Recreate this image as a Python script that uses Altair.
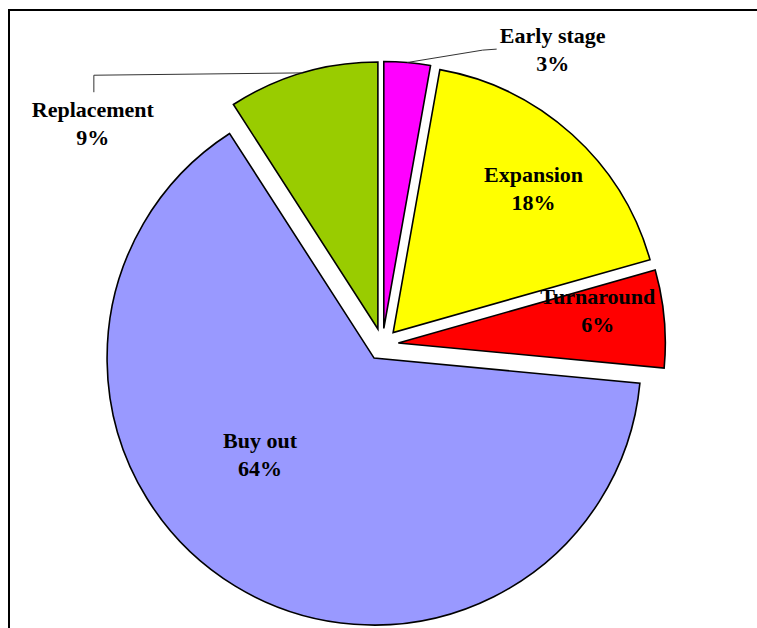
import altair as alt
import pandas as pd

# ---- data ----
CATEGORIES = ["Early stage", "Expansion", "Turnaround", "Buy out", "Replacement"]
VALUES = [2.8, 17.8, 5.9, 64.4, 9.1]
COLORS = ["#FF00FF", "#FFFF00", "#FF0000", "#9999FF", "#99CC00"]

# ---- layout ----
W, H = 757, 628
CX, CY = 382.4, 344.4      # common pie centre
R = 267                    # pie radius
EXPLODE = 16               # explosion distance of each slice
# label anchors, polar relative to each slice's exploded apex (px, degrees clockwise from 12 o'clock)
LABEL_RADIUS = [326, 201, 202, 150, 351]
LABEL_ANGLE = [31.2, 44.3, 81.0, 229.5, 305.7]
# leader lines: elbow dx, dy, end dx, dy relative to the label anchor
LEADER = {"Early stage": (-70, 0.5, -56, -0.5), "Replacement": (1, -49, 1, -32)}

nan = float("nan")
df = pd.DataFrame({
    "category": CATEGORIES,
    "value": VALUES,
    "idx": list(range(len(CATEGORIES))),
    "lr": LABEL_RADIUS,
    "la": LABEL_ANGLE,
    "ebx": [LEADER.get(c, (nan,) * 4)[0] for c in CATEGORIES],
    "eby": [LEADER.get(c, (nan,) * 4)[1] for c in CATEGORIES],
    "enx": [LEADER.get(c, (nan,) * 4)[2] for c in CATEGORIES],
    "eny": [LEADER.get(c, (nan,) * 4)[3] for c in CATEGORIES],
})

base = (
    alt.Chart(df)
    .transform_window(cum="sum(value)", sort=[alt.SortField("idx")], frame=[None, 0])
    .transform_joinaggregate(total="sum(value)")
    .transform_calculate(
        a0="2*PI*(datum.cum - datum.value)/datum.total",
        a1="2*PI*datum.cum/datum.total",
    )
    .transform_calculate(am="(datum.a0 + datum.a1)/2")
    .transform_calculate(
        cx=f"{CX} + {EXPLODE}*sin(datum.am)",
        cy=f"{CY} - {EXPLODE}*cos(datum.am)",
    )
    .transform_calculate(
        lx="datum.cx + datum.lr*sin(datum.la*PI/180)",
        ly="datum.cy - datum.lr*cos(datum.la*PI/180)",
        ex=f"datum.cx + {R}*sin(datum.am)",
        ey=f"datum.cy - {R}*cos(datum.am)",
        label="datum.category + '\\n' + round(datum.value/datum.total*100) + '%'",
    )
)

frame = alt.Chart(pd.DataFrame({"a": [0]})).mark_rect(
    filled=False, stroke="black", strokeWidth=2
).encode(
    x=alt.value(9), y=alt.value(10), x2=alt.value(W + 20), y2=alt.value(H + 20)
)

arcs = base.mark_arc(radius=R, stroke="black", strokeWidth=1.6).encode(
    x=alt.X("cx:Q", scale=None, axis=None),
    y=alt.Y("cy:Q", scale=None, axis=None),
    theta=alt.Theta("a0:Q", scale=None),
    theta2=alt.Theta2("a1:Q"),
    color=alt.Color("category:N", scale=alt.Scale(domain=CATEGORIES, range=COLORS), legend=None),
)

leaders = base.transform_filter("isValid(datum.ebx)")

leader1 = leaders.transform_calculate(
    bx="datum.lx + datum.ebx", by="datum.ly + datum.eby"
).mark_rule(color="#333333", strokeWidth=1).encode(
    x=alt.X("ex:Q", scale=None, axis=None),
    y=alt.Y("ey:Q", scale=None, axis=None),
    x2="bx:Q",
    y2="by:Q",
)

leader2 = leaders.transform_calculate(
    bx="datum.lx + datum.ebx", by="datum.ly + datum.eby",
    nx="datum.lx + datum.enx", ny="datum.ly + datum.eny",
).mark_rule(color="#333333", strokeWidth=1).encode(
    x=alt.X("bx:Q", scale=None, axis=None),
    y=alt.Y("by:Q", scale=None, axis=None),
    x2="nx:Q",
    y2="ny:Q",
)

labels = base.mark_text(
    font="Liberation Serif", fontSize=22, fontWeight="bold", color="black",
    lineBreak="\n", lineHeight=28, align="center", baseline="middle", dy=-14,
).encode(
    x=alt.X("lx:Q", scale=None, axis=None),
    y=alt.Y("ly:Q", scale=None, axis=None),
    text="label:N",
)

chart = alt.layer(frame, arcs, leader1, leader2, labels).properties(
    width=W, height=H, padding=0, autosize="none", background="white"
).configure_view(stroke=None)

chart.save("out.html", embed_options={"renderer": "svg", "actions": False})
